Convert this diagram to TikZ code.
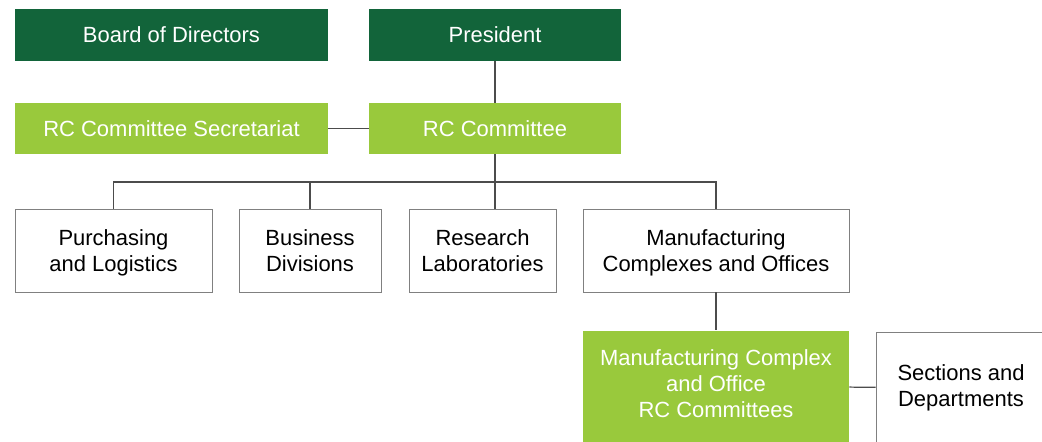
\documentclass[tikz,border=0pt]{standalone}
\usepackage{fontspec}
\setmainfont{Liberation Sans}
\definecolor{darkgr}{HTML}{12643A}
\definecolor{lightgr}{HTML}{99C93C}
\definecolor{rulegr}{HTML}{808080}
\newcommand{\topgap}{\rule{0pt}{13.8pt}}

\begin{document}
\begin{tikzpicture}
\tikzstyle{every node}=[inner sep=0pt, align=center, font=\fontsize{12.5}{14.8}\selectfont]
\tikzstyle{darkbox}=[rectangle, fill=darkgr, text=white, minimum width=6.26cm, minimum height=1.04cm]
\tikzstyle{lightbox}=[rectangle, fill=lightgr, text=white, minimum height=1.02cm]
\tikzstyle{plainbox}=[rectangle, draw=rulegr, line width=0.5pt, fill=white, text=black, minimum height=1.66cm]
\tikzstyle{link}=[draw=black!70, line width=0.7pt]
\useasboundingbox (0,0) rectangle (20.84,-8.82);
\draw (3.43,-0.70) node (board) [darkbox] {Board of Directors};
\draw (9.90,-0.70) node (pres) [darkbox, minimum width=5.04cm] {President};
\draw (3.43,-2.57) node (sec) [lightbox, minimum width=6.26cm] {RC Committee Secretariat};
\draw (9.90,-2.57) node (rcc) [lightbox, minimum width=5.04cm] {RC Committee};
\draw (2.27,-5.01) node (purch) [plainbox, minimum width=3.94cm] {\topgap Purchasing\\and Logistics\strut};
\draw (6.20,-5.01) node (bus) [plainbox, minimum width=2.84cm] {\topgap Business\\Divisions\strut};
\draw (9.65,-5.01) node (res) [plainbox, minimum width=2.94cm] {\topgap Research\\Laboratories\strut};
\draw (14.32,-5.01) node (manu) [plainbox, minimum width=5.32cm] {\topgap Manufacturing\\Complexes and Offices\strut};
\draw (14.32,-7.72) node (mrc) [lightbox, minimum width=5.32cm, minimum height=2.22cm] {\strut Manufacturing Complex\\and Office\\RC Committees\strut};
\draw (19.22,-7.76) node (sect) [plainbox, minimum width=3.40cm, minimum height=2.24cm] {\strut Sections and\\Departments\strut};
\coordinate (jn) at (9.90,-3.64);
\draw[link] (pres) -- (rcc);
\draw[link] (sec) -- (rcc);
\draw[link] (rcc) -- (jn);
\draw[link] (purch.north) |- (jn) -| (manu.north);
\draw[link] (bus.north) -- (bus.north |- jn);
\draw[link] (jn) -- (jn |- res.north);
\draw[link] (manu) -- (mrc);
\draw[link] (mrc) -- (sect);
\end{tikzpicture}
\end{document}
